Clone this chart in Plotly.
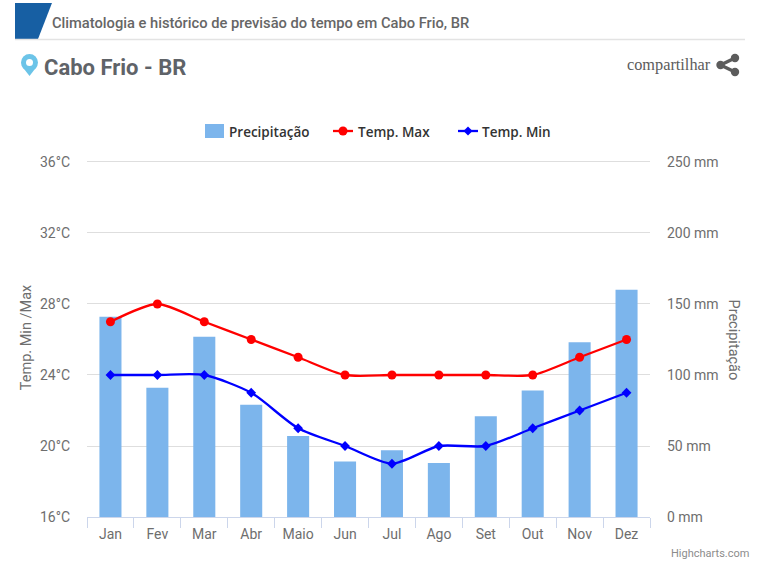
import plotly.graph_objects as go

W, H = 768, 565
L, R, T, B = 87, 650, 158, 517

meses = ["Jan", "Fev", "Mar", "Abr", "Maio", "Jun", "Jul", "Ago", "Set", "Out", "Nov", "Dez"]
precipitacao = [141, 91, 127, 79, 57, 39, 47, 38, 71, 89, 123, 160]
temp_max = [27, 28, 27, 26, 25, 24, 24, 24, 24, 24, 25, 26]
temp_min = [24, 24, 24, 23, 21, 20, 19, 20, 20, 21, 22, 23]

COR_BARRA = "#7cb5ec"
COR_MAX = "#ff0000"
COR_MIN = "#0000ff"
COR_ICONE = "#5c5c5c"


# page pixels -> paper coords
def px(x):
    return (x - L) / (R - L)


def py(y):
    return (B - y) / (B - T)


def page_path(points):
    return "M" + " L".join(f"{px(x):.4f},{py(y):.4f}" for x, y in points) + " Z"


def page_shape(**kw):
    return dict(xref="paper", yref="paper", layer="above", **kw)


def page_circle(cx, cy, r, color):
    return page_shape(type="circle", x0=px(cx - r), x1=px(cx + r), y0=py(cy + r), y1=py(cy - r),
                      fillcolor=color, line_width=0)


def page_line(x0, y0, x1, y1, color, width):
    return page_shape(type="line", x0=px(x0), x1=px(x1), y0=py(y0), y1=py(y1),
                      line=dict(color=color, width=width))


def page_text(x, y, text, size, color, family="Roboto", anchor="left", weight=None, angle=0):
    return dict(xref="paper", yref="paper", x=px(x), y=py(y), text=text, showarrow=False,
                xanchor=anchor, yanchor="middle", textangle=angle,
                font=dict(family=family, size=size, color=color, weight=weight))


fig = go.Figure()
fig.add_trace(go.Bar(x=meses, y=precipitacao, name="Precipitação", marker_color=COR_BARRA,
                     marker_line_width=0, width=0.47, yaxis="y"))
fig.add_trace(go.Scatter(x=meses, y=temp_max, name="Temp. Max", yaxis="y2", mode="lines+markers",
                         line=dict(color=COR_MAX, width=2.3, shape="spline", smoothing=0.7),
                         marker=dict(color=COR_MAX, size=9, symbol="circle")))
fig.add_trace(go.Scatter(x=meses, y=temp_min, name="Temp. Min", yaxis="y2", mode="lines+markers",
                         line=dict(color=COR_MIN, width=2.3, shape="spline", smoothing=0.7),
                         marker=dict(color=COR_MIN, size=7.5, symbol="diamond")))

tick_font = dict(family="Roboto", size=14, color="#6e6e6e")
title_font = dict(family="Roboto", size=14.5, color="#6e6e6e")
legend_font = dict(family="Open Sans", size=13.5, color="#333333", weight=600)

shapes = [
    page_shape(type="path", path=page_path([(15, 3), (52, 3), (38, 39), (15, 39)]),
               fillcolor="#175fa3", line_width=0),
    page_line(15, 39.5, 745, 39.5, "#e3e3e3", 1.5),
    # location pin
    page_shape(type="path", path=page_path([(29.5, 76), (22.5, 67), (36.5, 67)]),
               fillcolor="#6cc4e8", line_width=0),
    page_circle(29.5, 62.5, 8.5, "#6cc4e8"),
    page_circle(29.5, 62.5, 3.5, "white"),
    # share icon
    page_line(720.5, 65, 735, 58, COR_ICONE, 3.5),
    page_line(720.5, 65, 735, 72, COR_ICONE, 3.5),
    page_circle(720.5, 65, 4.2, COR_ICONE),
    page_circle(735, 58, 4.2, COR_ICONE),
    page_circle(735, 72, 4.2, COR_ICONE),
    # legend swatches
    page_shape(type="rect", x0=px(205), x1=px(224), y0=py(138), y1=py(124),
               fillcolor=COR_BARRA, line_width=0),
    page_line(333, 131, 353, 131, COR_MAX, 2.3),
    page_circle(343, 131, 4.5, COR_MAX),
    page_line(458, 131, 478, 131, COR_MIN, 2.3),
    page_shape(type="path", path=page_path([(468, 126.5), (472.5, 131), (468, 135.5), (463.5, 131)]),
               fillcolor=COR_MIN, line_width=0),
]
annotations = [
    page_text(50, 23, "Climatologia e histórico de previsão do tempo em Cabo Frio, BR", 14.7, "#666666", weight=500),
    page_text(42, 67, "Cabo Frio - BR", 22, "#5f6368", weight=700),
    page_text(625, 65, "compartilhar", 16.3, COR_ICONE, family="Liberation Serif"),
    page_text(751, 553, "Highcharts.com", 11, "#8c8c8c", anchor="right"),
    page_text(227, 131.5, "Precipitação", legend_font["size"], legend_font["color"], "Open Sans", weight=600),
    page_text(356, 131.5, "Temp. Max", legend_font["size"], legend_font["color"], "Open Sans", weight=600),
    page_text(480, 131.5, "Temp. Min", legend_font["size"], legend_font["color"], "Open Sans", weight=600),
    # right axis title reads top-down, which axis titles can't do
    page_text(733, 339.5, "Precipitação", title_font["size"], title_font["color"], anchor="center", angle=90),
]

fig.update_layout(
    width=W, height=H, autosize=False, showlegend=False,
    margin=dict(l=L, r=W - R, t=T, b=H - B),
    paper_bgcolor="white", plot_bgcolor="white",
    font=dict(family="Roboto", color="#666666"),
    xaxis=dict(type="category", categoryorder="array", categoryarray=meses, range=[-0.5, 11.5],
               tickson="boundaries", ticks="outside", ticklen=10, tickcolor="#ccd6eb", tickwidth=1,
               showline=True, linecolor="#ccd6eb", linewidth=1, showgrid=False, tickfont=tick_font,
               ticklabelstandoff=4),
    # top of both ranges a bit over the last tick so plotly keeps that gridline
    yaxis=dict(side="right", range=[0, 252.8], dtick=50, ticksuffix=" mm", showgrid=True,
               gridcolor="#dedede", gridwidth=1.3, zeroline=False, tickfont=tick_font,
               ticklabelstandoff=16, automargin=False),
    yaxis2=dict(side="left", overlaying="y", range=[16, 36.225], dtick=4, ticksuffix="°C", showgrid=False,
                zeroline=False, tickfont=tick_font, ticklabelstandoff=16, automargin=False,
                title=dict(text="Temp. Min /Max", font=title_font, standoff=4)),
    shapes=shapes, annotations=annotations,
)

fig.write_html("out.html", config={"displayModeBar": False}, post_script="document.body.style.margin='0';")
